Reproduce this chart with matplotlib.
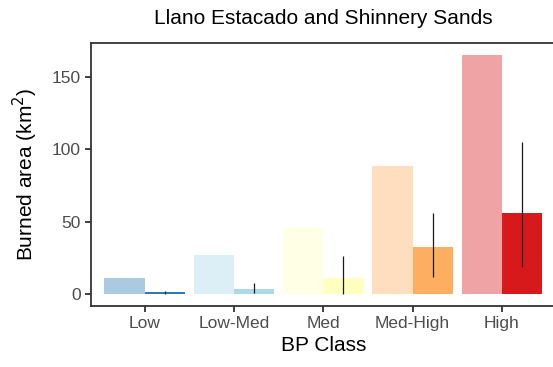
import matplotlib
matplotlib.use("Agg")
import matplotlib.pyplot as plt
import numpy as np

categories = ["Low", "Low-Med", "Med", "Med-High", "High"]
light_values = [10.8, 27.0, 45.8, 88.5, 165.2]
dark_values = [1.2, 3.5, 11.3, 32.7, 55.7]
err_low = [0.2, 0.5, 0.0, 11.5, 18.9]
err_high = [2.3, 7.4, 26.3, 56.2, 105.3]
base_colors = ["#2c7bb6", "#abd9e9", "#ffffbf", "#fdae61", "#d7191c"]

plt.rcParams["font.family"] = ["Liberation Sans", "DejaVu Sans"]

fig = plt.figure(figsize=(5.53, 3.67), dpi=100)
ax = fig.add_axes([91/553, 1 - 306/367, (555.6-91)/553, (306-43)/367])

x = np.arange(len(categories))
w = 0.45
ax.bar(x - w/2, light_values, width=w, color=base_colors, alpha=0.4, linewidth=0)
ax.bar(x + w/2, dark_values, width=w, color=base_colors, linewidth=0)
ax.vlines(x + w/2, err_low, err_high, color="#1a1a1a", linewidth=0.9)

ymax = max(max(light_values), max(err_high))
pad = 0.05 * ymax
ax.set_ylim(-pad, ymax + pad)
ax.set_xlim(-0.6, len(categories) - 0.4)
ax.set_xticks(x)
ax.set_xticklabels(categories)
ax.set_yticks([0, 50, 100, 150])

for s in ax.spines.values():
    s.set_color("#333333")
    s.set_linewidth(1.3)
ax.tick_params(axis="both", colors="#333333", width=1.3, length=4.5,
               labelsize=12.5, labelcolor="#4d4d4d", pad=3)

ax.set_xlabel("BP Class", fontsize=15, color="black", labelpad=3)
ax.set_ylabel("Burned area (km$^2$)", fontsize=15, color="black", labelpad=8)
fig.text(323.5/553, 1 - 24/367, "Llano Estacado and Shinnery Sands",
         ha="center", va="baseline", fontsize=15, color="black")

fig.savefig("out.png", dpi=100)
